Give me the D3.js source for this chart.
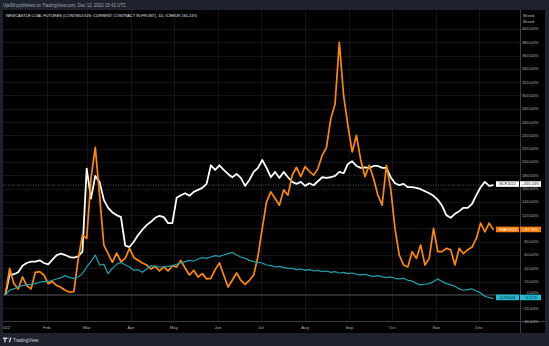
<!DOCTYPE html>
<html><head><meta charset="utf-8">
<script src="https://cdn.jsdelivr.net/npm/d3@7"></script>
<style>
html,body{margin:0;padding:0;background:#1e222d;}
svg{display:block;font-family:"Liberation Sans",Arial,sans-serif;}
</style></head><body>
<svg id="chart" width="549" height="346"></svg>
<script>
// Percent change since the first session of 2022, sampled every 3 calendar days
const startDate = new Date(2022, 0, 3);
const stepDays = 3;

const ncf2022 = [0,31,31,34,44,48,50,50,52,48, 46,53,60,62,60,57,56,58,65,190,
  145,179,170,143,131,124,120,117,74,72, 80,90,98,105,110,116,119,117,108,108,
  146,150,153,149,155,158,161,167,195,188, 195,188,182,177,182,176,164,173,185,191,
  203,191,177,185,176,185,177,170,167,170, 164,168,165,171,177,176,177,179,185,183,
  197,201,194,191,192,191,194,194,191,191, 177,168,165,167,162,162,161,159,156,153,
  149,143,134,120,116,122,126,131,131,137, 150,162,170,164,165.24];

const tfaf2023 = [0,40,17,9,27,14,9,34,35,30, 17,20,14,11,7,4,5,53,90,85,
  175,222,150,75,62,49,63,50,55,70, 56,52,48,45,39,43,36,42,36,44,
  42,52,40,30,37,27,32,24,25,38, 48,30,12,22,33,22,16,22,30,58,
  100,140,155,145,135,158,150,180,192,178, 193,186,180,190,210,222,265,287,380,300,
  255,215,240,203,178,195,175,150,135,195, 160,100,60,45,42,65,55,75,45,55,
  100,65,65,70,68,45,70,62,68,72, 85,108,95,108,97.76];

const clf2023 = [0,7,9,12,14,15,16,17,19,20, 20,22,24,26,29,26,25,27,32,42,
  50,60,45,46,32,40,46,49,45,42, 37,38,34,39,44,43,42,42,43,44,
  46,48,50,52,51,54,56,55,57,59, 58,60,62,64,60,57,55,52,50,49,
  48,45,44,42,43,41,40,40,38,39, 37,38,36,37,35,36,34,35,33,34,
  32,33,31,30,31,29,28,29,27,26, 27,25,24,25,22,21,17,15,16,17,
  20,24,20,17,15,13,9,7,8,9, 6,3,-2,-4,-5.57];

const seriesNames = ["NCF2022", "TFAF2023", "CLF2023"];
const seriesLast = [165.24, 97.76, -5.57];
const yTicks = [400,380,360,340,320,300,280,260,240,220,200,180,160,140,120,100,80,60,40,20,0,-20,-40];
const monthStarts = ["2022-01-03","2022-02-01","2022-03-01","2022-04-01","2022-05-01","2022-06-01",
  "2022-07-01","2022-08-01","2022-09-01","2022-10-01","2022-11-01","2022-12-01"];
const monthLabels = ["2022","Feb","Mar","Apr","May","Jun","Jul","Aug","Sep","Oct","Nov","Dec"];

const headerText = "Ujw99 published on TradingView.com, Dec 12, 2022 15:42 UTC";
const titleText = "NEWCASTLE COAL FUTURES (CONTINUOUS: CURRENT CONTRACT IN FRONT), 1D, ICEEUR  165.24%";

const svg = d3.select("#chart");
const W = 549, H = 346;
const pane = {x: 3, y: 10, r: 545, b: 333};
const plot = {l: 3, t: 10, r: 520, b: 321};

const parse = d3.timeParse("%Y-%m-%d");
const dates = ncf2022.map((_, i) => d3.timeDay.offset(startDate, i * stepDays));

const x = d3.scaleTime()
  .domain([new Date(2022, 0, 1), new Date(2022, 11, 31)])
  .range([2.5, 522]);
const y = d3.scaleLinear().domain([400, -40]).range([29, 321.5]);

svg.append("rect").attr("width", W).attr("height", H).attr("fill", "#1e222d");
svg.append("rect").attr("x", pane.x).attr("y", pane.y)
  .attr("width", pane.r - pane.x).attr("height", pane.b - pane.y).attr("fill", "#000");

const defs = svg.append("defs");
defs.append("clipPath").attr("id", "plotClip").append("rect")
  .attr("x", plot.l).attr("y", plot.t).attr("width", plot.r - plot.l).attr("height", plot.b - plot.t);
defs.append("clipPath").attr("id", "axisClip").append("rect")
  .attr("x", plot.l).attr("y", plot.b).attr("width", plot.r - plot.l).attr("height", pane.b - plot.b);

// grid
const grid = svg.append("g").attr("clip-path", "url(#plotClip)");
grid.selectAll("line.h").data(yTicks).join("line")
  .attr("x1", plot.l).attr("x2", plot.r)
  .attr("y1", d => Math.round(y(d)) + 0.5).attr("y2", d => Math.round(y(d)) + 0.5)
  .attr("stroke", "#141414").attr("stroke-width", 1);
grid.selectAll("line.v").data(monthStarts.slice(1)).join("line")
  .attr("x1", d => Math.round(x(parse(d))) + 0.5).attr("x2", d => Math.round(x(parse(d))) + 0.5)
  .attr("y1", plot.t).attr("y2", plot.b)
  .attr("stroke", "#141414").attr("stroke-width", 1);

// zero baseline and last-price line of the main series
grid.append("line")
  .attr("x1", plot.l).attr("x2", plot.r)
  .attr("y1", y(0)).attr("y2", y(0))
  .attr("stroke", "#4a4d55").attr("stroke-width", 1);
grid.append("line")
  .attr("x1", plot.l).attr("x2", plot.r)
  .attr("y1", y(seriesLast[0])).attr("y2", y(seriesLast[0]))
  .attr("stroke", "#6a6d75").attr("stroke-width", 0.8).attr("stroke-dasharray", "1,1.5");

// series
const line = d3.line().x((d, i) => x(dates[i])).y(d => y(d)).curve(d3.curveLinear);
const lines = svg.append("g").attr("clip-path", "url(#plotClip)")
  .attr("fill", "none").attr("stroke-linejoin", "round");
lines.append("path").datum(ncf2022).attr("d", line).attr("stroke", "#ffffff").attr("stroke-width", 1.8);
lines.append("path").datum(tfaf2023).attr("d", line).attr("stroke", "#ff8a00").attr("stroke-width", 1.7);
lines.append("path").datum(clf2023).attr("d", line).attr("stroke", "#1fa2b0").attr("stroke-width", 1.2);

// frame separators
svg.append("line").attr("x1", plot.r + 0.5).attr("x2", plot.r + 0.5).attr("y1", pane.y).attr("y2", pane.b)
  .attr("stroke", "#3a3d45").attr("stroke-width", 1);
svg.append("line").attr("x1", pane.x).attr("x2", pane.r).attr("y1", plot.b + 0.5).attr("y2", plot.b + 0.5)
  .attr("stroke", "#3a3d45").attr("stroke-width", 1);

// right price axis (the 0% label sits just above the CLF tag)
const axisG = svg.append("g").attr("fill", "#b2b5be").attr("font-size", 4.2);
const fmt = d3.format(".2f");
axisG.selectAll("text.tick").data(yTicks).join("text")
  .attr("x", 538.5).attr("y", d => y(d) - (d === 0 ? 2.6 : 0)).attr("dy", "0.35em")
  .attr("text-anchor", "end").text(d => fmt(d) + "%");
axisG.append("text").attr("x", 523).attr("y", 15.5).attr("dy", "0.35em").text("Mixed");
axisG.append("text").attr("x", 523).attr("y", 22).attr("dy", "0.35em").text("Mixed");

// time axis
svg.append("g").attr("clip-path", "url(#axisClip)")
  .selectAll("text").data(monthStarts).join("text")
  .attr("x", d => x(parse(d)))
  .attr("y", 327.5).attr("dy", "0.35em")
  .attr("text-anchor", "middle").attr("fill", "#b2b5be").attr("font-size", 4.3)
  .text((d, i) => monthLabels[i]);

// last value tags
const tagStyles = [
  {bg: "#ffffff", fg: "#131722"},
  {bg: "#f57c00", fg: "#ffffff"},
  {bg: "#22bdd2", fg: "#131722"}
];
const tagShift = [-1, -0.5, -1.2];
const tagFmt = v => (v >= 0 ? "+" : "\u2212") + fmt(Math.abs(v)) + "%";
const tags = svg.append("g").attr("font-size", 3.9);
seriesNames.forEach((name, i) => {
  const cy = y(seriesLast[i]) + tagShift[i];
  const g = tags.append("g");
  g.append("rect").attr("x", 496).attr("y", cy - 2.8).attr("width", 23).attr("height", 5.6)
    .attr("fill", tagStyles[i].bg);
  g.append("text").attr("x", 507.5).attr("y", cy).attr("dy", "0.35em").attr("text-anchor", "middle")
    .attr("fill", tagStyles[i].fg).text(name);
  g.append("rect").attr("x", 520).attr("y", cy - 2.8).attr("width", 21).attr("height", 5.6)
    .attr("fill", tagStyles[i].bg);
  g.append("text").attr("x", 530.5).attr("y", cy).attr("dy", "0.35em").attr("text-anchor", "middle")
    .attr("fill", tagStyles[i].fg).text(tagFmt(seriesLast[i]));
});

// header and legend title
svg.append("text").attr("x", 3).attr("y", 5).attr("dy", "0.35em")
  .attr("fill", "#a3a6af").attr("font-size", 4.6)
  .attr("textLength", 123).attr("lengthAdjust", "spacingAndGlyphs").text(headerText);
svg.append("text").attr("x", 6).attr("y", 15.3).attr("dy", "0.35em")
  .attr("fill", "#e0e3eb").attr("font-size", 4.1)
  .attr("textLength", 191).attr("lengthAdjust", "spacingAndGlyphs").text(titleText);

// footer brand
const brand = svg.append("g").attr("fill", "#d1d4dc");
brand.append("path").attr("d", "M3,337.6 h4 v1.3 h-1.3 v3.4 h-1.4 v-3.4 h-1.3 z");
brand.append("circle").attr("cx", 8).attr("cy", 338.3).attr("r", 0.7);
brand.append("path").attr("d", "M8.6,342.3 l1.6,-4.7 h1.4 l-1.6,4.7 z");
brand.append("text").attr("x", 13).attr("y", 340).attr("dy", "0.35em")
  .attr("font-size", 4.6).text("TradingView");
</script>
</body></html>
